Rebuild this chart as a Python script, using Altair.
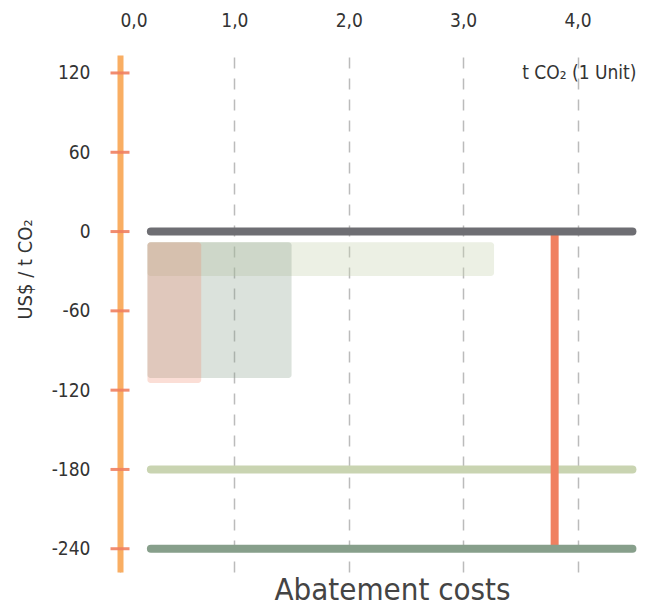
import altair as alt
import pandas as pd

FONT = "DejaVu Sans Condensed"

# ---- data ----
x_ticks = [0, 1, 2, 3, 4]
y_ticks = [120, 60, 0, -60, -120, -180, -240]

# horizontal reference lines
hline_names = ["zero", "low", "floor"]
hline_values = [0, -180, -240]
hline_start = [0.27, 0.27, 0.27]
hline_end = [4.48, 4.48, 4.48]
hline_colors = ["#6e6e73", "#c9d4b1", "#879f8b"]

# translucent blocks
rect_names = ["A", "B", "C"]
rect_x0 = [0.24, 0.24, 0.24]
rect_x1 = [3.27, 1.50, 0.71]
rect_y0 = [-8, -8, -8]
rect_y1 = [-33.6, -110.8, -114.5]
rect_colors = ["#c9d4b1", "#879f8b", "#f08060"]
rect_opacity = [0.35, 0.3, 0.26]

# vertical marker
vline_x = [3.80]
vline_top = [0]
vline_bottom = [-240]

X_DOMAIN = [0, 4.52]
Y_DOMAIN = [-257.6, 133.6]

hl = pd.DataFrame({"name": hline_names, "v": hline_values, "x0": hline_start,
                   "x1": hline_end, "c": hline_colors})
rc = pd.DataFrame({"name": rect_names, "x0": rect_x0, "x1": rect_x1, "y0": rect_y0,
                   "y1": rect_y1, "c": rect_colors, "o": rect_opacity})
vl = pd.DataFrame({"x": vline_x, "y0": vline_top, "y1": vline_bottom})
tk = pd.DataFrame({"v": y_ticks, "x": [0] * len(y_ticks)})

xs = alt.Scale(domain=X_DOMAIN, nice=False, zero=False)
ys = alt.Scale(domain=Y_DOMAIN, nice=False, zero=False)

x_axis = alt.Axis(orient="top", values=x_ticks, ticks=False, domain=False,
                  grid=True, gridColor="#bbbbbb", gridWidth=1.5, gridDash=[11, 10],
                  labelExpr="replace(format(datum.value, '.1f'), '.', ',')",
                  labelFontSize=19, labelColor="#333333", labelPadding=25,
                  labelFont=FONT, title=None)
y_axis = alt.Axis(orient="left", values=y_ticks, ticks=False, domain=True,
                  domainColor="#f9ae63", domainWidth=6, grid=False,
                  labelExpr="datum.value < 0 ? '-' + abs(datum.value) : '' + datum.value",
                  labelFontSize=19, labelColor="#333333", labelPadding=30,
                  labelFont=FONT,
                  title="US$ / t CO₂", titleFontSize=20, titleFont=FONT,
                  titleColor="#333333", titleFontWeight="normal",
                  titleX=-85, titleY=214, titleAngle=-90, titleAlign="center",
                  titleBaseline="bottom")

rects = alt.Chart(rc).mark_rect(cornerRadius=3).encode(
    x=alt.X("x0:Q", scale=xs, axis=x_axis),
    x2="x1:Q",
    y=alt.Y("y0:Q", scale=ys, axis=y_axis),
    y2="y1:Q",
    color=alt.Color("c:N", scale=None),
    opacity=alt.Opacity("o:Q", scale=None),
)

hl_back = alt.Chart(hl[hl["name"] == "low"]).mark_rule(strokeWidth=8, strokeCap="round").encode(
    x=alt.X("x0:Q", scale=xs), x2="x1:Q", y=alt.Y("v:Q", scale=ys),
    color=alt.Color("c:N", scale=None))

vline = alt.Chart(vl).mark_rule(strokeWidth=8, color="#f08060").encode(
    x=alt.X("x:Q", scale=xs), y=alt.Y("y0:Q", scale=ys), y2="y1:Q")

hl_front = alt.Chart(hl[hl["name"] != "low"]).mark_rule(strokeWidth=8, strokeCap="round").encode(
    x=alt.X("x0:Q", scale=xs), x2="x1:Q", y=alt.Y("v:Q", scale=ys),
    color=alt.Color("c:N", scale=None))

ticks = alt.Chart(tk).mark_tick(orient="horizontal", size=19, thickness=3,
                                color="#f08060", opacity=0.9).encode(
    x=alt.X("x:Q", scale=xs), y=alt.Y("v:Q", scale=ys))

unit_lbl = alt.Chart(pd.DataFrame({"t": ["t CO₂ (1 Unit)"], "x": [4.515], "y": [120]})).mark_text(
    align="right", baseline="middle", fontSize=19, font=FONT, color="#333333").encode(
    x=alt.X("x:Q", scale=xs), y=alt.Y("y:Q", scale=ys), text="t:N")

chart = alt.layer(rects, hl_back, vline, hl_front, ticks, unit_lbl).properties(
    width=517, height=517,
    title=alt.Title("Abatement costs", orient="bottom", anchor="middle", dx=14,
                    offset=4, baseline="top", fontSize=31, font=FONT,
                    color="#444444", fontWeight="normal"),
    autosize=alt.AutoSizeParams(type="none"),
    padding={"left": 112, "top": 47, "right": 0, "bottom": 36},
).configure_view(stroke=None)

chart.save("out.html", embed_options={"renderer": "svg", "actions": False})
